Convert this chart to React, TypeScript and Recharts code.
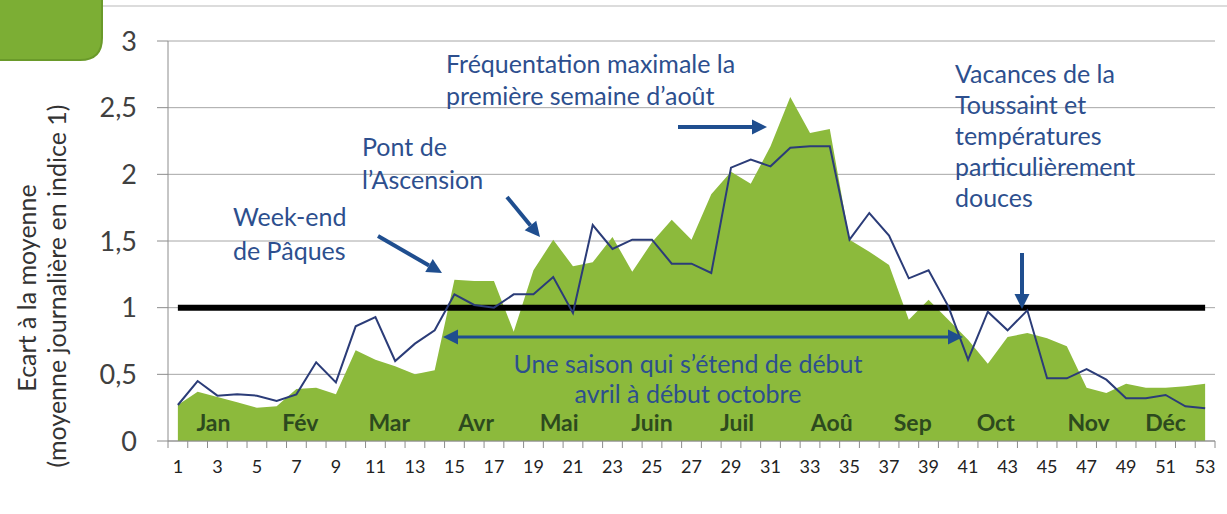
import React from "react";
import {
  ComposedChart,
  Area,
  Line,
  XAxis,
  YAxis,
  CartesianGrid,
  ReferenceDot,
} from "recharts";

const weeks = [
  1, 2, 3, 4, 5, 6, 7, 8, 9, 10, 11, 12, 13, 14, 15, 16, 17, 18, 19, 20, 21, 22, 23, 24, 25, 26,
  27, 28, 29, 30, 31, 32, 33, 34, 35, 36, 37, 38, 39, 40, 41, 42, 43, 44, 45, 46, 47, 48, 49, 50,
  51, 52, 53,
];

// fréquentation de l'année (aire verte)
const frequentation = [
  0.27, 0.37, 0.33, 0.29, 0.25, 0.26, 0.39, 0.4, 0.35, 0.68, 0.61, 0.56, 0.5, 0.53, 1.21, 1.2,
  1.2, 0.82, 1.28, 1.51, 1.31, 1.34, 1.53, 1.27, 1.49, 1.66, 1.51, 1.85, 2.02, 1.93, 2.21, 2.58,
  2.31, 2.34, 1.51, 1.42, 1.32, 0.91, 1.06, 0.91, 0.76, 0.58, 0.78, 0.81, 0.77, 0.71, 0.4, 0.36,
  0.43, 0.4, 0.4, 0.41, 0.43,
];

// année de comparaison (ligne bleue)
const comparaison = [
  0.27, 0.45, 0.34, 0.35, 0.34, 0.3, 0.35, 0.59, 0.44, 0.86, 0.93, 0.6, 0.73, 0.83, 1.1, 1.02,
  1.0, 1.1, 1.1, 1.23, 0.96, 1.62, 1.44, 1.51, 1.51, 1.33, 1.33, 1.26, 2.05, 2.11, 2.06, 2.2,
  2.21, 2.21, 1.51, 1.71, 1.54, 1.22, 1.28, 1.01, 0.61, 0.97, 0.83, 0.98, 0.47, 0.47, 0.54, 0.46,
  0.32, 0.32, 0.345, 0.26, 0.245,
];

const moyenne = 1;

const months = ["Jan", "Fév", "Mar", "Avr", "Mai", "Juin", "Juil", "Aoû", "Sep", "Oct", "Nov", "Déc"];
const monthWeeks = [2.8, 7.2, 11.7, 16.1, 20.3, 25, 29.3, 34.1, 38.2, 42.4, 47.1, 51];

const yTicks = [0, 0.5, 1, 1.5, 2, 2.5, 3];

const data = weeks.map((w, i) => ({
  week: w,
  frequentation: frequentation[i],
  comparaison: comparaison[i],
  moyenne,
}));

const W = 1227;
const H = 514;
const LEFT = 168;
const RIGHT = 12;
const BAND = (W - LEFT - RIGHT) / weeks.length;

const BLUE = "#1f4e8f";
const TEXT_BLUE = "#2d4f8e";
const FONT = "Lato, 'Open Sans', sans-serif";

function WeekTick(props: any) {
  const { x, y, payload, index } = props;
  const w = payload.value;
  return (
    <g>
      <line x1={x - BAND / 2} x2={x - BAND / 2} y1={y} y2={y + 7} stroke="#8c8c8c" />
      {index === weeks.length - 1 && (
        <line x1={x + BAND / 2} x2={x + BAND / 2} y1={y} y2={y + 7} stroke="#8c8c8c" />
      )}
      {w % 2 === 1 && (
        <text x={x} y={y + 32} textAnchor="middle" fontSize={18} fill="#222" fontFamily={FONT}>
          {w}
        </text>
      )}
    </g>
  );
}

function Arrow({ x1, y1, x2, y2, w = 4, head = 15 }: any) {
  const dx = x2 - x1;
  const dy = y2 - y1;
  const len = Math.sqrt(dx * dx + dy * dy);
  const ux = dx / len;
  const uy = dy / len;
  const bx = x2 - ux * head;
  const by = y2 - uy * head;
  const px = -uy * head * 0.5;
  const py = ux * head * 0.5;
  return (
    <g>
      <line x1={x1} y1={y1} x2={bx} y2={by} stroke={BLUE} strokeWidth={w} />
      <polygon points={`${x2},${y2} ${bx + px},${by + py} ${bx - px},${by - py}`} fill={BLUE} />
    </g>
  );
}

function Note({ x, y, lines, anchor = "start", gap = 32 }: any) {
  return (
    <text x={x} y={y} fontSize={25} fill={TEXT_BLUE} fontFamily={FONT} textAnchor={anchor}>
      {lines.map((l: string, i: number) => (
        <tspan key={i} x={x} dy={i === 0 ? 0 : gap}>
          {l}
        </tspan>
      ))}
    </text>
  );
}

export default function App() {
  return (
    <div style={{ position: "absolute", left: 0, top: 0, width: W, height: H, background: "#fff" }}>
      <ComposedChart
        width={W}
        height={H}
        data={data}
        margin={{ top: 41, right: RIGHT, bottom: 33, left: 0 }}
      >
        <CartesianGrid vertical={false} stroke="#a6a6a6" />
        <XAxis
          dataKey="week"
          interval={0}
          height={40}
          tickSize={0}
          tickMargin={0}
          tickLine={false}
          padding={{ left: BAND / 2, right: BAND / 2 }}
          stroke="#8c8c8c"
          tick={<WeekTick />}
        />
        <XAxis
          xAxisId="pos"
          dataKey="week"
          type="number"
          domain={[0.5, 53.5]}
          allowDataOverflow
          hide
        />
        <YAxis
          width={LEFT}
          domain={[0, 3]}
          ticks={yTicks}
          tickSize={11}
          tickMargin={20}
          stroke="#8c8c8c"
          tick={{ fontSize: 27, fill: "#404040", fontFamily: FONT }}
          tickFormatter={(v: number) => String(v).replace(".", ",")}
        />
        <Area
          type="linear"
          dataKey="frequentation"
          stroke="none"
          fill="#8cba3c"
          fillOpacity={1}
          isAnimationActive={false}
        />
        <Line
          type="linear"
          dataKey="moyenne"
          stroke="#000"
          strokeWidth={6}
          dot={false}
          isAnimationActive={false}
        />
        <Line
          type="linear"
          dataKey="comparaison"
          stroke="#2b3c78"
          strokeWidth={2}
          dot={false}
          isAnimationActive={false}
        />
        {months.map((m, i) => (
          <ReferenceDot
            key={m}
            xAxisId="pos"
            x={monthWeeks[i]}
            y={0.135}
            r={0}
            shape={(p: any) => (
              <text
                x={p.cx}
                y={p.cy + 8}
                textAnchor="middle"
                fontSize={23}
                fontWeight="bold"
                fill="#2d4a1e"
                fontFamily={FONT}
              >
                {m}
              </text>
            )}
          />
        ))}
      </ComposedChart>

      <svg
        width={W}
        height={H}
        style={{ position: "absolute", left: 0, top: 0, pointerEvents: "none" }}
      >
        <line x1={100} x2={W} y1={6} y2={6} stroke="#dcdcdc" strokeWidth={2} />
        <path
          d="M -2 -2 L 102 -2 L 102 38 Q 102 60 80 60 L -2 60 Z"
          fill="#7cae34"
          stroke="#6a9a2a"
          strokeWidth={2}
        />

        <text
          transform="translate(36,288) rotate(-90)"
          textAnchor="middle"
          fontSize={25}
          fill="#333"
          fontFamily={FONT}
        >
          Ecart à la moyenne
        </text>
        <text
          transform="translate(66,286) rotate(-90)"
          textAnchor="middle"
          fontSize={25}
          fill="#333"
          fontFamily={FONT}
        >
          (moyenne journalière en indice 1)
        </text>

        <Note x={446} y={73} lines={["Fréquentation maximale la", "première semaine d’août"]} />
        <Note x={362} y={156} lines={["Pont de", "l’Ascension"]} gap={33} />
        <Note x={233} y={226} lines={["Week-end", "de Pâques"]} gap={34} />
        <Note
          x={955}
          y={83}
          lines={["Vacances de la", "Toussaint et", "températures", "particulièrement", "douces"]}
          gap={31}
        />
        <Note
          x={688}
          y={373}
          anchor="middle"
          lines={["Une saison qui s’étend de début", "avril à début octobre"]}
          gap={30}
        />

        <Arrow x1={378} y1={236} x2={442} y2={273} />
        <Arrow x1={507} y1={197} x2={540} y2={237} />
        <Arrow x1={678} y1={127} x2={767} y2={127} />
        <Arrow x1={1022} y1={253} x2={1022} y2={309} />
        <Arrow x1={700} y1={337} x2={443} y2={337} w={3} />
        <Arrow x1={700} y1={337} x2={963} y2={337} w={3} />
      </svg>
    </div>
  );
}
